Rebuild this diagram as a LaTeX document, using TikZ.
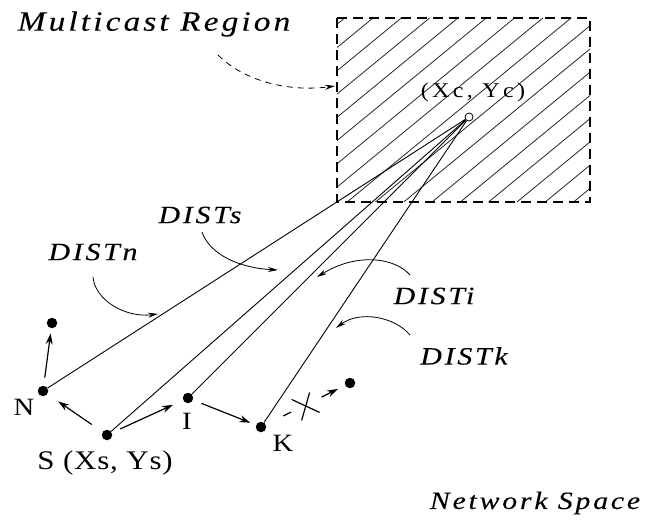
\documentclass[tikz,border=0pt]{standalone}
\usepackage{fontspec}
\setmainfont{Liberation Serif}
\newfontfamily\lblit[FakeStretch=1.2,LetterSpace=11,FakeBold=0.1]{Liberation Serif}
\newfontfamily\lblup[FakeStretch=1.15,LetterSpace=3]{Liberation Serif}
\newfontfamily\lblxc[FakeStretch=1.15,LetterSpace=16]{Liberation Serif}
\usetikzlibrary{arrows.meta,calc}
\tikzset{
  dot/.style={circle,fill=black,inner sep=0pt,minimum size=10.5bp},
  conn/.style={line width=0.9bp},
  arr/.style={line width=1.2bp,-{Stealth[length=11bp,width=7bp]}},
  curv/.style={line width=0.8bp,-{Stealth[length=10bp,width=5bp]}},
  itl/.style={font=\fontsize{25}{28}\lblit\itshape},
  itlbig/.style={font=\fontsize{28}{32}\lblit\itshape},
  upl/.style={font=\fontsize{25}{28}\lblup},
  hatch/.style={line width=0.8bp,black!85},
}
\begin{document}
\begin{tikzpicture}[x=1bp,y=-1bp]
\useasboundingbox (0,0) rectangle (658,520);
% hatched region
\begin{scope}
  \clip (337,18) rectangle (590,202);
  \foreach \k in {-2,...,17}{
    \draw[hatch] ({149+28.3*\k},202) -- ({373+28.3*\k},18);
  }
\end{scope}
\draw[line width=1.6bp,dash pattern=on 10bp off 6bp] (337,18) rectangle (590,202);
% nodes
\node[dot] (N) at (43,391) {};
\node[dot] (T) at (52,323) {};
\node[dot] (S) at (107,435) {};
\node[dot] (I) at (188,398) {};
\node[dot] (K) at (261,427) {};
\node[dot] (E) at (350,383) {};
\node[circle,draw,fill=white,inner sep=0pt,minimum size=8bp,line width=0.8bp] (C) at (469,117) {};
% distance lines
\draw[conn] (C) -- (N);
\draw[conn] (C) -- (S);
\draw[conn] (C) -- (I);
\draw[conn] (C) -- (K);
% neighbour arrows
\draw[arr,shorten <=8bp,shorten >=5bp] (N) -- (T);
\draw[arr,shorten <=13bp,shorten >=13bp] (S) -- (N);
\draw[arr,shorten <=9bp,shorten >=11bp] (S) -- (I);
\draw[arr,shorten <=9bp,shorten >=6bp] (I) -- (K);
% blocked arrow K -> E
\coordinate (X) at ($(K)!0.49!(E)$);
\draw[line width=1.2bp] ($(K)!0.25!(E)$) -- ($(K)!0.34!(E)$);
\draw[arr] ($(K)!0.68!(E)$) -- ($(K)!0.865!(E)$);
\draw[line width=1.2bp] ([shift={(-13,-6)}]X) -- ([shift={(15,7)}]X);
\draw[line width=1.2bp] ([shift={(5,-13)}]X) -- ([shift={(-3,15)}]X);
% labels
\node[itlbig] (MR) at (154,24) {Multicast Region};
\node[font=\fontsize{21}{24}\lblxc] (CL) at (473,92) {(Xc, Yc)};
\node[itl] (Ds) at (200,215) {DISTs};
\node[itl] (Dn) at (93,252) {DISTn};
\node[itl] (Di) at (434,296) {DISTi};
\node[itl] (Dk) at (464,356) {DISTk};
\node[itl] (NS) at (535,503) {Network Space};
\node[upl] (NL) at (24,407) {N};
\node[upl] (IL) at (187,421) {I};
\node[upl] (KL) at (283,443) {K};
\node[font=\fontsize{27}{30}\lblup] (SL) at (105,463) {S (Xs, Ys)};
% curved label arrows
\coordinate (mr0) at (218,55);
\coordinate (mr1) at (335,86);
\draw[curv,dash pattern=on 6bp off 5bp] (mr0) .. controls (245,82) and (290,92) .. (mr1);
\coordinate (dn0) at (93,277);
\coordinate (dn1) at (158,314);
\draw[curv] (dn0) .. controls (95,300) and (125,318) .. (dn1);
\coordinate (ds0) at (202,232);
\coordinate (ds1) at (278,270);
\draw[curv] (ds0) .. controls (210,255) and (240,268) .. (ds1);
\coordinate (di0) at (410,275);
\coordinate (di1) at (317,277);
\draw[curv] (di0) .. controls (395,258) and (358,252) .. (di1);
\coordinate (dk0) at (410,335);
\coordinate (dk1) at (336,328);
\draw[curv] (dk0) .. controls (395,317) and (360,310) .. (dk1);
\end{tikzpicture}
\end{document}
